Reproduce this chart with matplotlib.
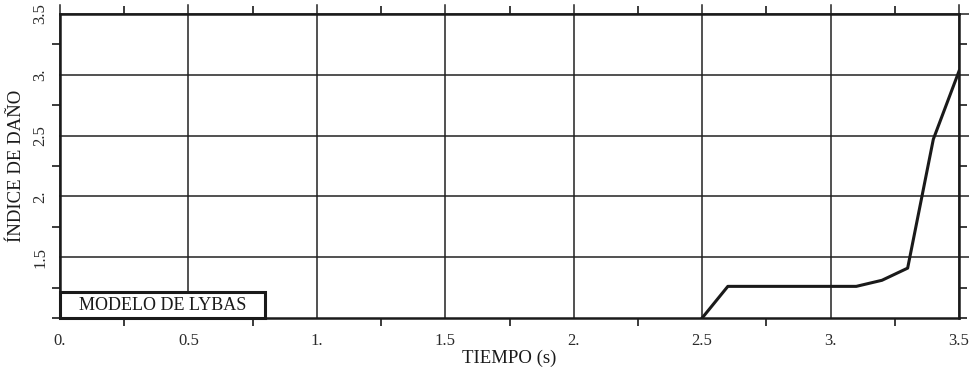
import matplotlib.pyplot as plt
from matplotlib.patches import Rectangle

# data
tiempo = [2.5, 2.6, 3.1, 3.2, 3.3, 3.4, 3.5]
indice = [1.0, 1.26, 1.26, 1.31, 1.41, 2.47, 3.03]

x_major = [0, 0.5, 1, 1.5, 2, 2.5, 3, 3.5]
x_labels = ["0.", "0.5", "1.", "1.5", "2.", "2.5", "3.", "3.5"]
x_minor = [0.25, 0.75, 1.25, 1.75, 2.25, 2.75, 3.25]
y_major = [1.5, 2, 2.5, 3, 3.5]
y_labels = ["1.5", "2.", "2.5", "3.", "3.5"]
y_minor = [1.0, 1.25, 1.75, 2.25, 2.75, 3.25]

plt.rcParams['font.family'] = ['Liberation Serif', 'DejaVu Serif']

fig = plt.figure(figsize=(9.69, 3.73), dpi=100)
ax = fig.add_axes([0.0619, 0.1475, 0.9278, 0.815])
ax.set_xlim(0, 3.5)
ax.set_ylim(1, 3.5)

# grid lines poking out past the top and right edges
for xv in x_major:
    ax.axvline(xv, ymin=0, ymax=1.03, color='#222222', lw=1.1, clip_on=False, zorder=1)
for yv in y_major:
    ax.axhline(yv, xmin=0, xmax=1.011, color='#222222', lw=1.1, clip_on=False, zorder=1)

ax.plot(tiempo, indice, color='#1a1a1a', lw=2.2, zorder=3, solid_joinstyle='round')

# label box in the lower left
ax.add_patch(Rectangle((0, 1.0), 0.8, 0.215, facecolor='white', edgecolor='#1a1a1a',
                       lw=2.2, zorder=4, clip_on=False))
ax.text(0.4, 1.105, "MODELO DE LYBAS", ha='center', va='center', fontsize=13,
        color='#1a1a1a', zorder=5)

ax.set_xticks(x_major)
ax.set_xticklabels(x_labels)
ax.set_xticks(x_minor, minor=True)
ax.set_yticks(y_major)
ax.set_yticklabels(y_labels, rotation=90, va='center')
ax.set_yticks(y_minor, minor=True)

ax.tick_params(which='major', length=0, labelsize=12, colors='#2a2a2a')
ax.tick_params(axis='x', which='major', pad=11)
ax.tick_params(axis='y', which='major', pad=8.5)
ax.tick_params(which='minor', direction='out', length=6, width=1.2, color='#1a1a1a',
               top=True, right=True)

for s in ax.spines.values():
    s.set_linewidth(1.8)
    s.set_color('#1a1a1a')

ax.set_xlabel("TIEMPO (s)", fontsize=13.5, color='#1a1a1a', labelpad=0)
ax.set_ylabel("ÍNDICE DE DAÑO", fontsize=13.5, color='#1a1a1a', labelpad=5.5)

fig.savefig("out.png", dpi=100, facecolor='white')
